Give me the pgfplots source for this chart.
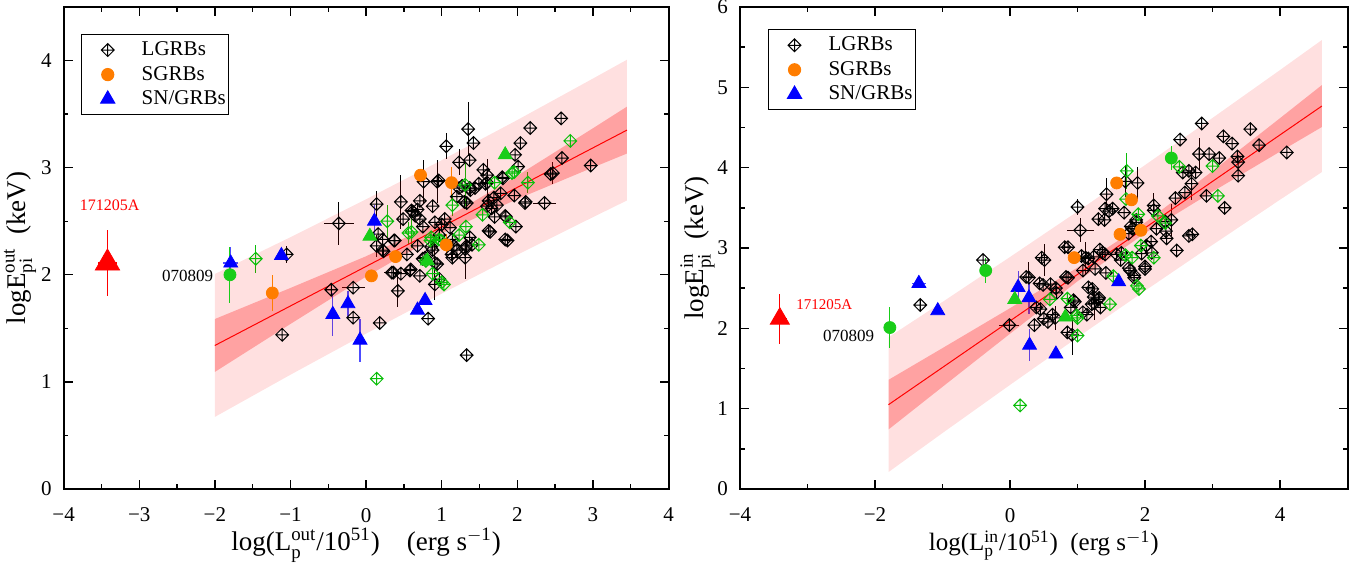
\documentclass[border=0pt]{standalone}
\usepackage{fontspec}
\setmainfont{Liberation Serif}
\usepackage{pgfplots}
\usepackage{pgfplotstable}
\pgfplotsset{compat=1.18}

\definecolor{gcirc}{RGB}{25,205,25}
\definecolor{gdia}{RGB}{10,190,10}
\definecolor{sorange}{RGB}{255,125,0}

% diamond with a cross inside
\pgfdeclareplotmark{dplus}{%
  \pgfpathmoveto{\pgfqpoint{0pt}{\pgfplotmarksize}}%
  \pgfpathlineto{\pgfqpoint{\pgfplotmarksize}{0pt}}%
  \pgfpathlineto{\pgfqpoint{0pt}{-\pgfplotmarksize}}%
  \pgfpathlineto{\pgfqpoint{-\pgfplotmarksize}{0pt}}%
  \pgfpathclose
  \pgfpathmoveto{\pgfqpoint{0pt}{\pgfplotmarksize}}%
  \pgfpathlineto{\pgfqpoint{0pt}{-\pgfplotmarksize}}%
  \pgfpathmoveto{\pgfqpoint{\pgfplotmarksize}{0pt}}%
  \pgfpathlineto{\pgfqpoint{-\pgfplotmarksize}{0pt}}%
  \pgfusepathqstroke}

% ---------------- left panel data (x y ex ey) ----------------
\pgfplotstableread{
x y ex ey
-1.11 1.44 0 0
-1.05 2.19 0 0.08
-0.36 2.48 0.2 0.2
-0.46 1.86 0.08 0
-0.17 1.88 0.15 0
-0.17 1.60 0 0
0.18 1.55 0 0
0.14 2.66 0 0.12
0.14 2.27 0 0.1
0.22 2.33 0 0
0.22 2.23 0 0
0.38 2.32 0 0
0.46 2.68 0 0.25
0.49 2.52 0 0
0.36 2.02 0.12 0
0.42 1.85 0 0.15
0.46 2.01 0 0
0.59 2.05 0 0
0.62 2.59 0 0
0.68 2.61 0 0
0.71 2.69 0 0
0.68 2.27 0 0
0.71 2.52 0 0
0.75 2.45 0 0
0.76 2.87 0 0.2
0.94 2.87 0 0.2
0.75 2.15 0 0
0.71 1.99 0 0
0.88 2.64 0 0
0.88 2.23 0 0
0.82 1.59 0 0
0.91 2.11 0 0.2
0.97 1.96 0 0
1.06 3.20 0 0.12
1.04 2.52 0 0
1.11 2.44 0 0
1.23 3.05 0 0.12
1.23 2.81 0 0
1.35 3.36 0 0.25
1.37 3.07 0 0
1.42 3.23 0 0
1.33 2.67 0 0
1.37 2.81 0 0
1.20 2.23 0 0
1.14 2.16 0 0
1.31 2.16 0 0.2
1.33 2.27 0 0
1.37 2.35 0 0
1.40 2.28 0 0
1.33 1.25 0 0
1.55 2.98 0 0
1.60 2.86 0 0.2
1.62 2.69 0 0
1.64 2.40 0 0
1.66 2.62 0 0
1.78 2.76 0 0
1.81 2.90 0 0
1.85 2.54 0 0
1.87 2.32 0 0
1.97 3.12 0 0
2.01 3.01 0 0
2.04 3.23 0 0
1.96 2.74 0 0
1.98 2.45 0 0
2.10 2.67 0 0
2.17 3.37 0 0
2.36 2.67 0.15 0
2.47 2.95 0 0.1
2.58 3.46 0 0
2.59 3.09 0 0
2.97 3.02 0 0
1.60 2.64 0 0
1.70 2.54 0 0
0.91 2.49 0 0
0.97 2.37 0 0
1.14 2.33 0 0
1.44 2.81 0 0
0.60 2.60 0 0
0.65 2.55 0 0
0.16 2.38 0 0
0.37 2.32 0 0
0.23 2.22 0 0
0.86 2.26 0 0
0.54 2.19 0 0
0.78 2.16 0 0
0.34 2.02 0 0
0.58 2.04 0 0
0.91 1.91 0 0.15
1.60 2.93 0 0.15
0.96 2.88 0 0
1.27 2.83 0 0
1.38 2.79 0 0
1.49 2.85 0 0
1.58 2.85 0 0
1.80 2.91 0 0
2.44 2.94 0 0
1.20 2.73 0 0
1.30 2.68 0 0
1.69 2.72 0 0
1.73 2.65 0 0
2.11 2.68 0 0
1.84 2.55 0 0
1.62 2.41 0 0
1.84 2.33 0 0
1.00 2.47 0 0
1.16 2.27 0 0
1.31 2.24 0 0
1.13 2.19 0 0
0.94 2.10 0 0
}\leftblack

\pgfplotstableread{
x y ey
-1.46 2.15 0.13
0.14 1.03 0.05
0.28 2.50 0.15
0.56 2.39 0.1
0.60 2.40 0.15
0.85 2.32 0
0.88 2.01 0
1.03 1.91 0
0.99 2.32 0
1.14 2.65 0.1
1.23 2.37 0
1.32 2.45 0
1.31 2.84 0.2
1.49 2.28 0
1.54 2.56 0
1.70 2.86 0
1.93 2.95 0
1.96 2.96 0
1.90 2.49 0
2.14 2.86 0.1
2.70 3.25 0
0.79 2.13 0
0.86 2.35 0
0.96 2.33 0
1.00 1.93 0
}\leftgreen

\pgfplotstableread{
x y ey
-1.24 1.83 0.17
0.07 1.99 0.05
0.39 2.17 0.05
0.72 2.93 0
1.13 2.86 0.15
1.06 2.28 0.1
}\leftorange

\pgfplotstableread{
x y ex ey
-1.79 2.11 0.1 0.15
-1.12 2.18 0 0
-0.44 1.63 0 0.2
-0.24 1.73 0 0.12
-0.08 1.39 0 0.2
0.11 2.50 0 0.15
0.68 1.67 0 0
0.78 1.76 0 0
}\leftblue

% ---------------- right panel data ----------------
\pgfplotstableread{
x y ex ey
-0.40 2.85 0 0
-1.33 2.29 0 0.08
-0.01 2.04 0.15 0
0.28 2.63 0 0.2
0.36 2.04 0 0
0.51 2.85 0 0.2
0.49 2.54 0 0
0.45 2.24 0 0
0.56 2.08 0 0
0.67 2.13 0 0.15
0.68 2.50 0 0
0.86 2.63 0 0
0.86 3.01 0.1 0
0.90 2.26 0 0
0.92 1.92 0 0.25
0.96 2.33 0 0
1.00 3.51 0 0.1
1.04 3.22 0.2 0.15
1.08 2.72 0 0
1.12 2.88 0 0.2
1.14 2.17 0 0
1.22 2.49 0 0
1.25 2.31 0 0.2
1.32 2.38 0 0
1.34 2.26 0 0
1.37 2.94 0 0
1.42 2.69 0 0
1.40 3.35 0 0
1.43 3.67 0 0.2
1.47 3.46 0 0
1.52 3.49 0 0
1.69 3.44 0 0
1.71 3.83 0 0.2
1.78 2.72 0 0
1.81 3.24 0 0
1.84 2.63 0 0
1.89 3.81 0 0.2
1.87 3.35 0 0
2.00 2.74 0 0
2.02 3.03 0 0
2.10 2.94 0 0
2.13 3.53 0 0.15
2.17 3.24 0 0
2.32 3.12 0 0
2.39 3.35 0 0.2
2.47 2.97 0 0
2.45 3.62 0 0
2.52 4.35 0 0
2.56 3.94 0 0
2.65 3.96 0 0
2.69 3.80 0 0.2
2.59 3.69 0 0
2.65 3.15 0 0
2.75 3.94 0 0
2.80 4.17 0 0.2
2.84 4.55 0 0
2.91 3.65 0 0
2.95 4.17 0 0
3.10 4.12 0 0
3.16 4.39 0 0
3.18 3.50 0.1 0
3.29 4.30 0 0
3.37 4.14 0 0
3.38 4.07 0 0
3.38 3.90 0 0
3.56 4.48 0 0
3.69 4.28 0 0
4.10 4.19 0 0
0.24 2.64 0 0
0.47 2.88 0 0
0.44 2.56 0 0
0.39 2.26 0 0
0.60 2.55 0 0
0.69 2.44 0 0
0.50 2.12 0 0
0.63 2.17 0 0
0.83 2.64 0 0
0.81 3.01 0 0
1.06 2.90 0 0
0.94 2.35 0 0
1.08 2.20 0 0
0.85 1.95 0 0
1.16 2.51 0 0
1.24 2.39 0 0
1.21 2.30 0 0
1.31 2.36 0 0
1.16 2.87 0 0
1.24 2.89 0 0
1.33 2.98 0 0
1.31 3.36 0 0
1.41 3.49 0 0
1.26 2.74 0 0
1.41 2.92 0 0
1.58 2.92 0 0
2.13 3.47 0 0
2.30 3.33 0 0
1.87 3.32 0 0
1.79 3.27 0 0
1.76 3.18 0 0
2.31 3.21 0 0
2.70 3.17 0 0
2.09 3.08 0 0
1.95 2.93 0 0
1.65 2.94 0 0
1.64 2.85 0 0
2.00 2.77 0 0
1.76 2.75 0 0
1.84 2.66 0 0
}\rightblack

\pgfplotstableread{
x y ey
0.15 1.04 0
0.59 2.36 0
1.00 2.13 0
1.00 1.91 0
1.48 2.30 0
1.53 2.65 0
1.73 3.96 0.22
1.81 2.88 0
1.91 2.49 0
1.90 3.42 0
1.94 3.03 0
2.13 2.88 0
2.19 3.40 0
2.51 4.01 0
3.00 4.02 0
3.08 3.65 0
1.71 2.91 0
2.30 3.31 0
1.72 3.61 0
1.88 2.53 0
0.85 2.37 0
0.99 2.16 0
}\rightgreen

\pgfplotstableread{
x y ey
0.95 2.88 0
1.58 3.81 0
1.80 3.60 0.08
1.63 3.17 0
1.94 3.22 0
}\rightorange

\pgfplotstableread{
x y ex ey
-1.35 2.56 0.1 0
-1.07 2.22 0 0
0.12 2.51 0 0.2
0.28 2.38 0 0.2
0.29 1.79 0 0.2
0.68 1.68 0 0
1.61 2.58 0 0
}\rightblue

\pgfplotsset{
  grbaxis/.style={
    scale only axis,
    height=241pt,
    axis line style={line width=1pt},
    tick align=inside,
    minor tick num=1,
    major tick length=4.5pt,
    minor tick length=2.3pt,
    tick style={line width=0.7pt, black},
    /pgf/number format/assume math mode=true,
    tick label style={font=\fontsize{10.5}{12}\selectfont},
    xticklabel style={yshift=-6pt},
    yticklabel style={xshift=-2.5pt},
    legend style={draw=black, line width=0.6pt, font=\fontsize{10.5}{12}\selectfont,
      inner xsep=1.5pt, inner ysep=3pt, row sep=2.75pt,
      nodes={inner sep=0pt, text height=7.5pt, text depth=2pt, anchor=west},
      /tikz/every odd column/.append style={column sep=4.5pt}},
    legend image code/.code={%
      \path[draw=none, fill=none] (0pt,0pt) -- (24pt,0pt);
      \draw[##1] plot coordinates {(11.5pt,0pt)};},
    clip=true,
  },
  ebxy/.style={error bars/x dir=both, error bars/x explicit,
    error bars/y dir=both, error bars/y explicit, error bars/error mark=none},
  eby/.style={error bars/y dir=both, error bars/y explicit, error bars/error mark=none},
  blackpts/.style={only marks, mark=dplus, mark size=3.2pt, black,
    mark options={line width=0.5pt}, ebxy,
    error bars/error bar style={line width=0.5pt}},
  greenpts/.style={only marks, mark=dplus, mark size=3.2pt, gdia,
    mark options={line width=0.5pt}, eby,
    error bars/error bar style={line width=0.5pt}},
  orangepts/.style={only marks, mark=*, mark size=3pt, sorange,
    mark options={draw=sorange, fill=sorange}, eby,
    error bars/error bar style={line width=0.5pt}},
  bluepts/.style={only marks, mark=triangle*, mark size=4pt, blue,
    mark options={draw=blue, fill=blue}, ebxy,
    error bars/error bar style={line width=0.6pt, blue!70}},
}

\begin{document}
\begin{tikzpicture}
% ================= left panel =================
\begin{axis}[grbaxis,
  at={(0pt,0pt)}, anchor=south west,
  width=302.5pt,
  xmin=-4, xmax=4, ymin=0, ymax=4.5,
  xtick={-4,-3,...,4}, ytick={0,1,2,3,4},
  xticklabels={−4,−3,−2,−1,0,1,2,3,4},
  xlabel={log(L$_{\mathrm{p}}^{\mathrm{out}}$/10$^{\mathrm{51}}$)\quad(erg s$^{\mathrm{-1}}$)},
  ylabel={logE$_{\mathrm{pi}}^{\mathrm{out}}$\ \ (keV)},
  xlabel style={at={(axis description cs:0.5,-0.1286)}, anchor=base, font=\fontsize{13.5}{15}\selectfont},
  ylabel style={at={(axis description cs:-0.072,0.5)}, anchor=center, font=\fontsize{13.5}{15}\selectfont},
  legend style={at={(rel axis cs:0.029,0.944)}, anchor=north west},
]
\addlegendimage{only marks, mark=dplus, mark size=3.2pt, black, mark options={line width=0.5pt}}
\addlegendentry{LGRBs}
\addlegendimage{only marks, mark=*, mark size=3pt, sorange}
\addlegendentry{SGRBs}
\addlegendimage{only marks, mark=triangle*, mark size=4pt, blue}
\addlegendentry{SN/GRBs}

\addplot[forget plot, blackpts] table[x=x, y=y, x error=ex, y error=ey] {\leftblack};
\addplot[forget plot, greenpts] table[x=x, y=y, y error=ey] {\leftgreen};
\addplot[forget plot, bluepts] table[x=x, y=y, x error=ex, y error=ey] {\leftblue};

% 95% prediction band and confidence band
\addplot[fill=red, fill opacity=0.12, draw=none, forget plot] coordinates {
  (-2,2.007) (-1,2.351) (0,2.705) (1,3.070) (2,3.445) (3,3.832) (3.45,4.008)
  (3.45,2.694) (3,2.538) (2,2.187) (1,1.824) (0,1.451) (-1,1.067) (-2,0.673)} -- cycle;
\addplot[fill=red, fill opacity=0.28, draw=none, forget plot] coordinates {
  (-2,1.587) (-1,1.877) (0,2.173) (1,2.507) (2,2.925) (3,3.368) (3.45,3.570)
  (3.45,3.132) (3,3.002) (2,2.707) (1,2.387) (0,1.983) (-1,1.541) (-2,1.093)} -- cycle;
\addplot[red, line width=0.5pt, forget plot] coordinates {(-2,1.34) (3.45,3.351)};

\addplot[forget plot, orangepts] table[x=x, y=y, y error=ey] {\leftorange};
\addplot[forget plot, only marks, mark=*, mark size=3pt, gcirc, eby,
  error bars/error bar style={line width=0.5pt}] coordinates {(-1.80,2.00) +- (0,0.26)};
\addplot[forget plot, only marks, mark=triangle*, mark size=4pt, gcirc] coordinates {
  (0.05,2.36) (1.84,3.12) (0.81,2.13)};
\addplot[forget plot, only marks, mark=triangle*, mark size=7pt, red, ebxy,
  error bars/error bar style={line width=0.6pt}] coordinates {(-3.42,2.11) +- (0.12,0.31)};

\node[red, font=\fontsize{8}{9}\selectfont] at (axis cs:-3.39,2.65) {171205A};
\node[anchor=east, font=\fontsize{8.5}{9}\selectfont] at (axis cs:-1.93,1.99) {070809};
\end{axis}

% ================= right panel =================
\begin{axis}[grbaxis,
  at={(338.2pt,0pt)}, anchor=south west,
  width=303.75pt,
  xmin=-4, xmax=5, ymin=0, ymax=6,
  xtick={-4,-2,0,2,4}, ytick={0,1,2,3,4,5,6},
  xticklabels={−4,−2,0,2,4},
  minor xtick={-3,-1,1,3,5},
  xlabel={log(L$_{\mathrm{p}}^{\mathrm{in}}$/10$^{\mathrm{51}}$)\ \ (erg s$^{\mathrm{-1}}$)},
  ylabel={logE$_{\mathrm{pi}}^{\mathrm{in}}$\ \ (keV)},
  xlabel style={at={(axis description cs:0.5,-0.1286)}, anchor=base, font=\fontsize{12.5}{15}\selectfont},
  ylabel style={at={(axis description cs:-0.07,0.5)}, anchor=center, font=\fontsize{13.5}{15}\selectfont},
  legend style={at={(rel axis cs:0.046,0.954)}, anchor=north west},
]
\addlegendimage{only marks, mark=dplus, mark size=3.2pt, black, mark options={line width=0.5pt}}
\addlegendentry{LGRBs}
\addlegendimage{only marks, mark=*, mark size=3pt, sorange}
\addlegendentry{SGRBs}
\addlegendimage{only marks, mark=triangle*, mark size=4pt, blue}
\addlegendentry{SN/GRBs}

\addplot[forget plot, blackpts] table[x=x, y=y, x error=ex, y error=ey] {\rightblack};
\addplot[forget plot, greenpts] table[x=x, y=y, y error=ey] {\rightgreen};
\addplot[forget plot, bluepts] table[x=x, y=y, x error=ex, y error=ey] {\rightblue};

\addplot[fill=red, fill opacity=0.12, draw=none, forget plot] coordinates {
  (-1.8,1.889) (-1,2.329) (0,2.888) (1,3.455) (2,4.032) (3,4.619) (4,5.215) (4.62,5.589)
  (4.62,3.945) (4,3.601) (3,3.039) (2,2.468) (1,1.887) (0,1.296) (-1,0.697) (-1.8,0.211)} -- cycle;
\addplot[fill=red, fill opacity=0.28, draw=none, forget plot] coordinates {
  (-1.8,1.359) (-1,1.754) (0,2.251) (1,2.756) (2,3.315) (3,3.957) (4,4.616) (4.62,5.028)
  (4.62,4.506) (4,4.200) (3,3.701) (2,3.185) (1,2.586) (0,1.933) (-1,1.272) (-1.8,0.741)} -- cycle;
\addplot[red, line width=0.5pt, forget plot] coordinates {(-1.8,1.05) (4.62,4.767)};

\addplot[forget plot, orangepts] table[x=x, y=y, y error=ey] {\rightorange};
\addplot[forget plot, only marks, mark=*, mark size=3pt, gcirc, eby,
  error bars/error bar style={line width=0.5pt}] coordinates {
  (-1.78,2.01) +- (0,0.26) (-0.36,2.72) +- (0,0.15) (2.39,4.12) +- (0,0.15)};
\addplot[forget plot, only marks, mark=triangle*, mark size=4pt, gcirc] coordinates {
  (0.07,2.36) (0.82,2.14)};
\addplot[forget plot, only marks, mark=triangle*, mark size=5.5pt, red, ebxy,
  error bars/error bar style={line width=0.6pt}] coordinates {(-3.41,2.12) +- (0.1,0.31)};

\node[red, anchor=west, font=\fontsize{7.5}{9}\selectfont] at (axis cs:-3.27,2.30) {171205A};
\node[anchor=east, font=\fontsize{8.5}{9}\selectfont] at (axis cs:-1.91,1.91) {070809};
\end{axis}

\pgfresetboundingbox
\path[use as bounding box] (-31.8pt,-40.5pt) rectangle (648.7pt,244.5pt);
\end{tikzpicture}
\end{document}
